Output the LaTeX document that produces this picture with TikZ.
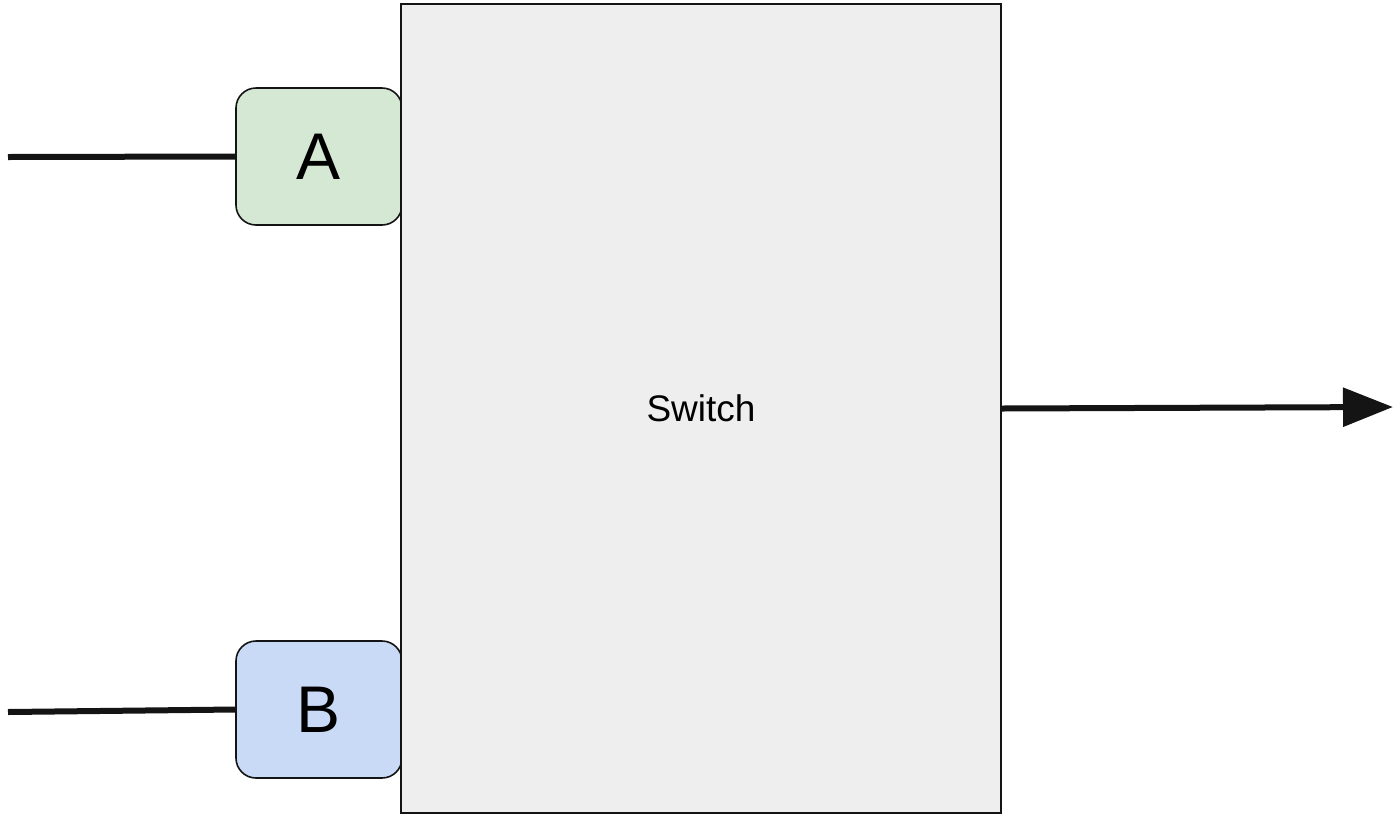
\documentclass[tikz,border=0pt]{standalone}
\usepackage{fontspec}
\setmainfont{Liberation Sans}
\usetikzlibrary{arrows.meta}
\definecolor{swfill}{HTML}{EEEEEF}
\definecolor{afill}{HTML}{D5E8D4}
\definecolor{bfill}{HTML}{C9DAF6}
\definecolor{ink}{HTML}{141414}
\begin{document}
\begin{tikzpicture}[x=1pt,y=-1pt,
  port/.style={draw=ink,line width=1.6pt,rounded corners=20pt,minimum width=166pt,minimum height=137pt,inner sep=0pt,font=\fontsize{66}{66}\selectfont},
  switchbox/.style={draw=ink,line width=2pt,fill=swfill,minimum width=600pt,minimum height=809pt,inner sep=0pt,font=\fontsize{37}{37}\selectfont},
  wire/.style={draw=ink,line width=6pt}]
\useasboundingbox (0,0) rectangle (1393,815);
\node[port,fill=afill] (A) at (319,156.5) {A};
\node[port,fill=bfill] (B) at (319,709.5) {B};
\node[switchbox] (S) at (701,408.5) {Switch};
\coordinate (ain) at (8,157);
\coordinate (bin) at (8,712);
\coordinate (out) at (1393,407);
\draw[wire] (ain) -- (A.west);
\draw[wire] (bin) -- (B.west);
\draw[wire,-{Triangle[length=50pt,width=38pt]}] (S.east) -- (out);
\end{tikzpicture}
\end{document}
